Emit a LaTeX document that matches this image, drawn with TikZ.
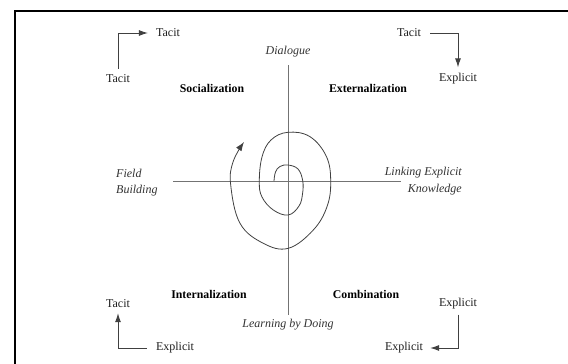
\documentclass[tikz,border=0pt]{standalone}
\usepackage{fontspec}
\setmainfont{Liberation Serif}
\usetikzlibrary{arrows.meta}
\begin{document}
\begin{tikzpicture}[x=1pt,y=-1pt,
  lbl/.style={inner sep=0pt, font=\fontsize{12}{14}\selectfont, text=black!88},
  mode/.style={lbl, font=\fontsize{11.8}{14}\selectfont\bfseries, text=black},
  axislbl/.style={lbl, font=\fontsize{12}{14}\selectfont\itshape, text=black!80},
  elbow/.style={draw=black!75, line width=0.9pt, -{Latex[length=9pt,width=6pt]}},
  axis/.style={draw=black!55, line width=0.9pt},
  spiral/.style={draw=black!75, line width=0.8pt, -{Latex[length=9pt,width=6.5pt]}}]
\useasboundingbox[fill=white] (0,0) rectangle (568,364);
% frame on the top and left sides
\draw[line width=2pt] (568,11) -- (15,11) -- (15,364);

% axes
\coordinate (vtop) at (288,65);
\coordinate (vbot) at (288,315);
\coordinate (hleft) at (173,181.5);
\coordinate (hright) at (401,181.5);
\draw[axis] (vtop) -- (vbot);
\draw[axis] (hleft) -- (hright);

% axis labels
\node[axislbl] (dialogue) at (288,52) {Dialogue};
\node[axislbl] (doing) at (288,325) {Learning by Doing};
\node[axislbl, anchor=east] (linking) at (462,173) {Linking Explicit};
\node[axislbl, anchor=east] (knowledge) at (462,190) {Knowledge};
\node[axislbl, anchor=west] (field) at (116,173) {Field};
\node[axislbl, anchor=west] (building) at (116,191) {Building};

% mode names
\node[mode] (soc) at (212,88) {Socialization};
\node[mode] (ext) at (368,88) {Externalization};
\node[mode] (int) at (209,294) {Internalization};
\node[mode] (comb) at (366,294) {Combination};

% conversion corners
\node[lbl] (tlto) at (168,33) {Tacit};
\node[lbl] (tlfrom) at (118,79) {Tacit};
\node[lbl] (trfrom) at (409,33) {Tacit};
\node[lbl] (trto) at (458,79) {Explicit};
\node[lbl] (brfrom) at (458,304) {Explicit};
\node[lbl] (brto) at (404,348) {Explicit};
\node[lbl] (blfrom) at (175,348) {Explicit};
\node[lbl] (blto) at (118,304) {Tacit};

\draw[elbow] ([yshift=6pt]tlfrom.north) |- ([xshift=-8pt]tlto.west);
\draw[elbow] ([xshift=9pt]trfrom.east) -| ([yshift=6pt]trto.north);
\draw[elbow] ([yshift=-5pt]brfrom.south) |- ([xshift=7pt]brto.east);
\draw[elbow] ([xshift=-9pt]blfrom.west) -| ([yshift=-5pt]blto.south);

% knowledge spiral
\draw[spiral] plot[smooth, tension=0.65] coordinates {
  (274,181) (275.5,172) (280,166.5) (288,165) (298,169) (302.7,180.7)
  (302.5,194) (299,206) (288.3,215) (273.3,210) (262,197) (259.3,181.7)
  (262,157) (271,140) (288,132.3) (310,136.7) (326.5,156.7) (330.7,181.7)
  (327,206.7) (313.3,230) (288.3,248.3) (263.3,243.3) (240,223.3)
  (230.7,185) (233,162) (244,142)};
\end{tikzpicture}
\end{document}
